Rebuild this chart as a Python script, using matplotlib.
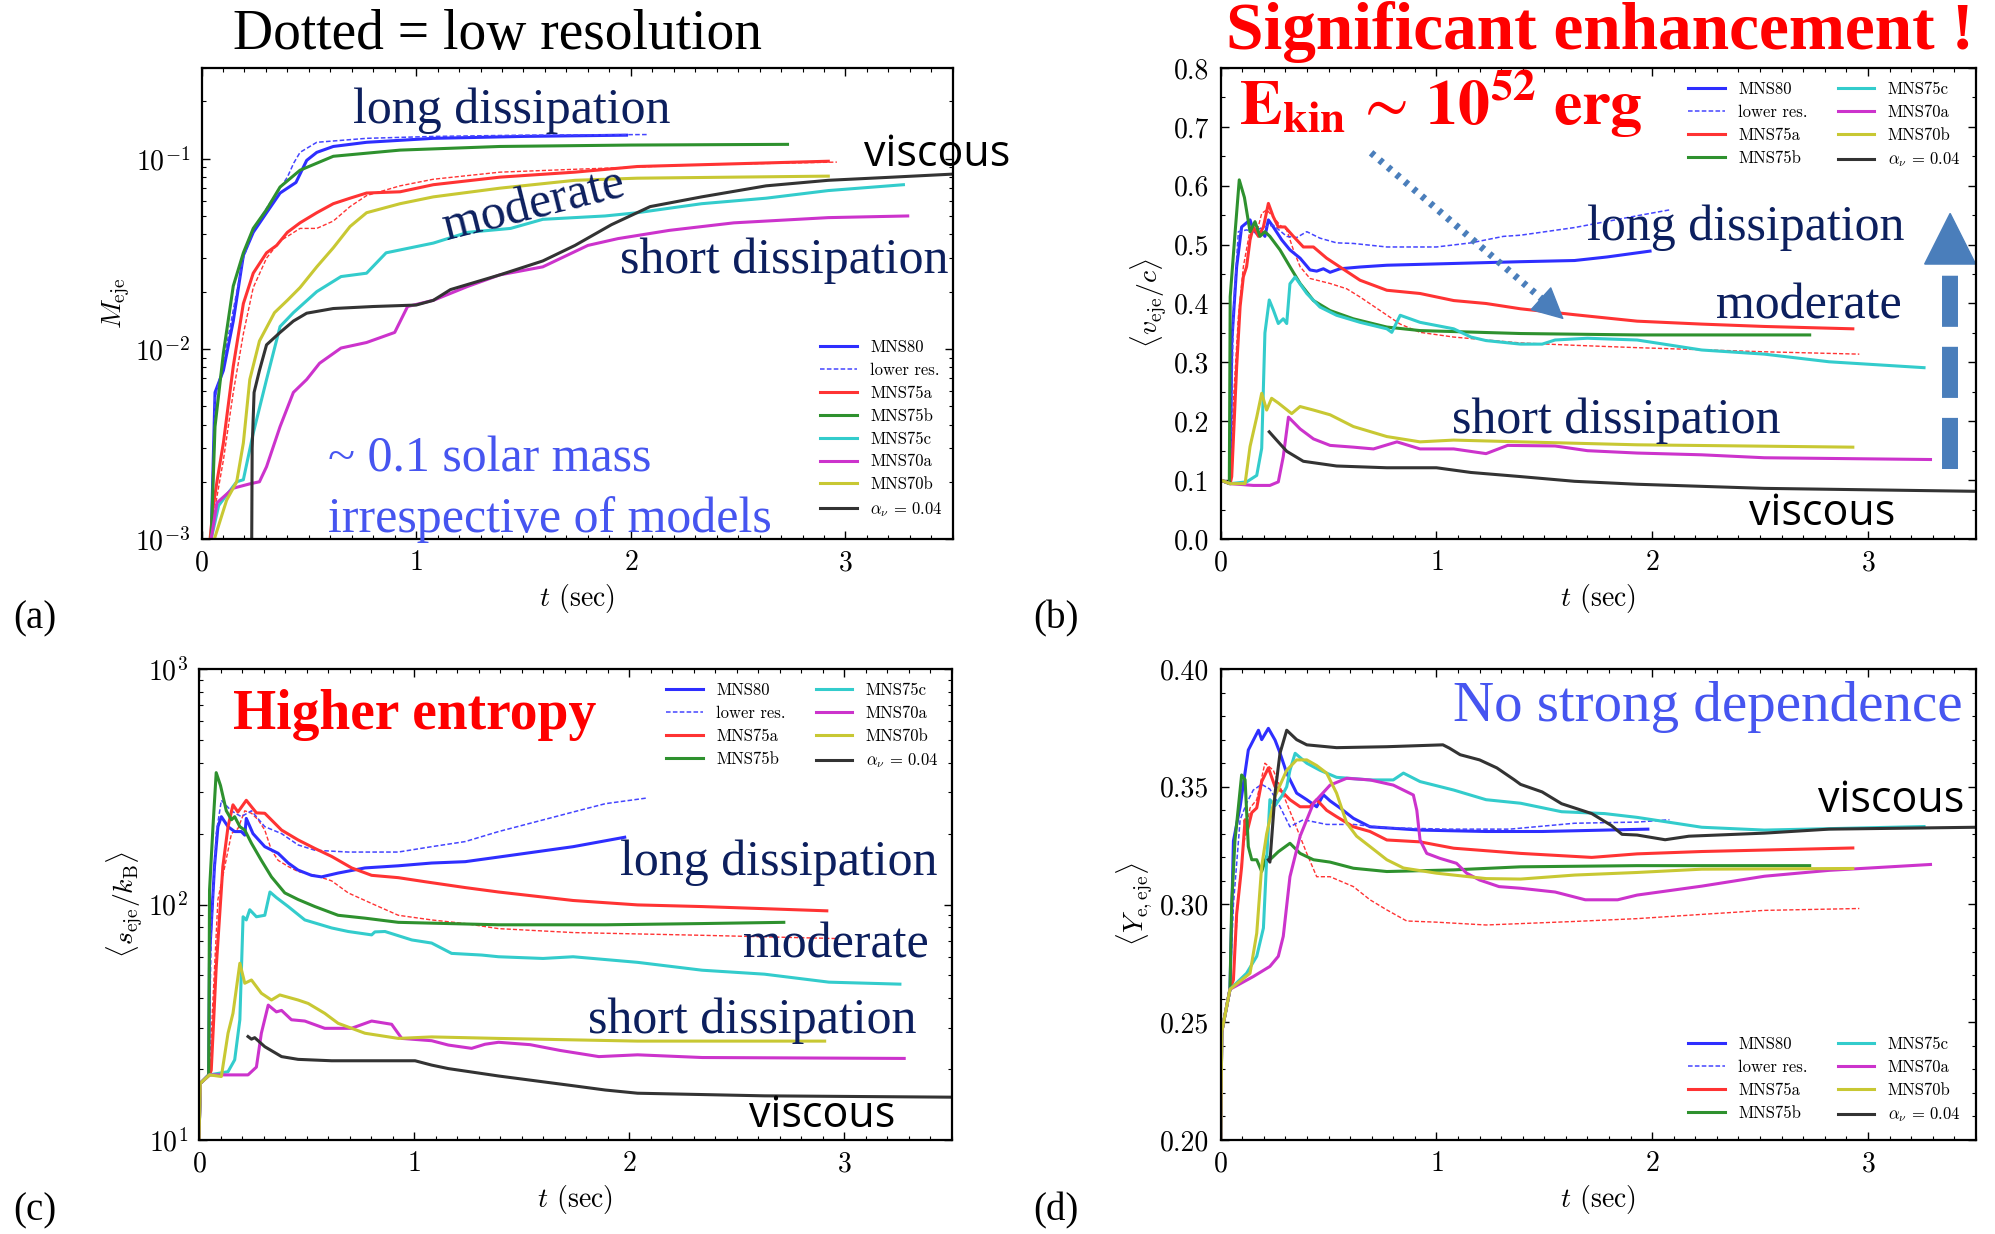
import matplotlib
matplotlib.use('Agg')
import matplotlib.pyplot as plt
from matplotlib.ticker import MultipleLocator, NullFormatter, FormatStrFormatter

plt.rcParams['font.family'] = 'cmr10'
plt.rcParams['mathtext.fontset'] = 'cm'
plt.rcParams['axes.formatter.use_mathtext'] = True

# ---------------- data ----------------
labels = ['MNS80', 'lower res.', 'MNS75a', 'MNS75b', 'MNS75c', 'MNS70a', 'MNS70b', r'$\alpha_\nu$ = 0.04']
colors = ['#2e2eff', '#4545ff', '#ff3333', '#2e912e', '#33cccc', '#cc33cc', '#c8c833', '#333333']

# (a) ejecta mass
a_t_mns80 = [0.045, 0.063, 0.102, 0.148, 0.195, 0.241, 0.303, 0.366, 0.44, 0.49, 0.537, 0.614, 0.769, 1.08, 1.5, 1.98]
a_m_mns80 = [1e-3, 5.9e-3, 7.7e-3, 0.014, 0.031, 0.041, 0.052, 0.066, 0.075, 0.098, 0.108, 0.116, 0.122, 0.128, 0.131, 0.133]
a_t_low80 = [0.045, 0.063, 0.102, 0.148, 0.195, 0.241, 0.303, 0.366, 0.4, 0.43, 0.459, 0.537, 0.769, 1.08, 1.5, 2.08]
a_m_low80 = [1e-3, 5.5e-3, 8.5e-3, 0.016, 0.03, 0.042, 0.055, 0.07, 0.08, 0.095, 0.108, 0.122, 0.128, 0.131, 0.133, 0.134]
a_t_mns75a = [0.04, 0.055, 0.075, 0.102, 0.148, 0.195, 0.241, 0.303, 0.35, 0.4, 0.459, 0.537, 0.614, 0.692, 0.769, 0.925, 1.08, 1.39, 1.74, 2.03, 2.33, 2.92]
a_m_mns75a = [1e-3, 1.5e-3, 2.1e-3, 3.2e-3, 8.1e-3, 0.0173, 0.025, 0.032, 0.035, 0.041, 0.046, 0.052, 0.058, 0.062, 0.066, 0.067, 0.073, 0.08, 0.085, 0.091, 0.093, 0.097]
a_t_low75a = [0.04, 0.06, 0.102, 0.148, 0.195, 0.241, 0.303, 0.366, 0.4, 0.459, 0.537, 0.614, 0.692, 0.769, 0.925, 1.08, 1.391, 1.74, 2.33, 2.96]
a_m_low75a = [1e-3, 1.4e-3, 2.6e-3, 5.9e-3, 0.012, 0.021, 0.03, 0.037, 0.039, 0.043, 0.043, 0.047, 0.056, 0.064, 0.072, 0.078, 0.085, 0.088, 0.093, 0.096]
a_t_mns75b = [0.045, 0.063, 0.102, 0.148, 0.195, 0.241, 0.303, 0.366, 0.459, 0.614, 0.925, 1.39, 2.0, 2.73]
a_m_mns75b = [1e-3, 3.9e-3, 9.5e-3, 0.0214, 0.032, 0.043, 0.054, 0.071, 0.087, 0.103, 0.111, 0.116, 0.118, 0.119]
a_t_mns75c = [0.045, 0.08, 0.164, 0.195, 0.241, 0.303, 0.366, 0.428, 0.537, 0.65, 0.769, 0.86, 1.08, 1.24, 1.44, 1.59, 1.88, 2.03, 2.33, 2.63, 2.92, 3.27]
a_m_mns75c = [1e-3, 1.5e-3, 2.0e-3, 2.05e-3, 3.6e-3, 6.9e-3, 0.0131, 0.0155, 0.02, 0.024, 0.025, 0.032, 0.036, 0.041, 0.043, 0.048, 0.05, 0.052, 0.058, 0.062, 0.068, 0.073]
a_t_mns70a = [0.045, 0.072, 0.148, 0.225, 0.27, 0.303, 0.366, 0.428, 0.49, 0.55, 0.65, 0.769, 0.9, 0.96, 1.08, 1.24, 1.39, 1.59, 1.8, 1.94, 2.18, 2.48, 2.92, 3.29]
a_m_mns70a = [1e-3, 1.55e-3, 1.85e-3, 1.95e-3, 2.0e-3, 2.4e-3, 3.9e-3, 5.9e-3, 6.9e-3, 8.4e-3, 0.0101, 0.0108, 0.0122, 0.0167, 0.018, 0.0213, 0.0245, 0.027, 0.035, 0.038, 0.042, 0.046, 0.049, 0.050]
a_t_mns70b = [0.06, 0.117, 0.164, 0.195, 0.225, 0.27, 0.34, 0.4, 0.459, 0.537, 0.614, 0.692, 0.769, 0.925, 1.08, 1.39, 1.74, 2.03, 2.92]
a_m_mns70b = [1e-3, 1.6e-3, 2e-3, 3.2e-3, 6.9e-3, 0.011, 0.0155, 0.018, 0.021, 0.027, 0.034, 0.044, 0.052, 0.058, 0.063, 0.070, 0.077, 0.079, 0.081]
a_t_visc = [0.234, 0.236, 0.245, 0.27, 0.303, 0.366, 0.428, 0.49, 0.614, 0.8, 1.0, 1.08, 1.16, 1.39, 1.59, 1.74, 1.91, 2.09, 2.33, 2.63, 2.92, 3.22, 3.5]
a_m_visc = [1e-3, 3e-3, 5.9e-3, 7.7e-3, 0.0105, 0.0122, 0.014, 0.0154, 0.0163, 0.0167, 0.017, 0.018, 0.0205, 0.0245, 0.029, 0.035, 0.045, 0.056, 0.063, 0.072, 0.077, 0.080, 0.083]

# (b) mean velocity
b_t_mns80 = [0, 0.044, 0.051, 0.074, 0.097, 0.136, 0.151, 0.175, 0.19, 0.205, 0.221, 0.244, 0.283, 0.321, 0.368, 0.414, 0.445, 0.476, 0.507, 0.553, 0.646, 0.77, 1.08, 1.39, 1.64, 1.79, 1.99]
b_v_mns80 = [0.1, 0.094, 0.332, 0.4625, 0.53, 0.542, 0.525, 0.516, 0.522, 0.514, 0.542, 0.53, 0.508, 0.491, 0.477, 0.457, 0.455, 0.459, 0.453, 0.459, 0.462, 0.465, 0.468, 0.471, 0.473, 0.479, 0.489]
b_t_low80 = [0, 0.044, 0.059, 0.082, 0.12, 0.151, 0.198, 0.244, 0.306, 0.352, 0.399, 0.46, 0.537, 0.615, 0.77, 1.0, 1.16, 1.31, 1.39, 1.64, 1.93, 2.08]
b_v_low80 = [0.1, 0.094, 0.39, 0.522, 0.525, 0.522, 0.53, 0.533, 0.514, 0.512, 0.522, 0.511, 0.503, 0.502, 0.496, 0.496, 0.503, 0.514, 0.516, 0.529, 0.549, 0.559]
b_t_mns75a = [0, 0.044, 0.051, 0.074, 0.09, 0.105, 0.12, 0.136, 0.151, 0.175, 0.198, 0.221, 0.244, 0.267, 0.298, 0.337, 0.383, 0.43, 0.491, 0.553, 0.646, 0.77, 0.924, 1.08, 1.23, 1.39, 1.64, 1.93, 2.23, 2.52, 2.93]
b_v_mns75a = [0.1, 0.094, 0.106, 0.293, 0.395, 0.4455, 0.4625, 0.508, 0.53, 0.514, 0.53, 0.57, 0.547, 0.53, 0.53, 0.514, 0.496, 0.496, 0.477, 0.462, 0.4395, 0.4225, 0.417, 0.405, 0.4, 0.391, 0.381, 0.37, 0.365, 0.361, 0.357]
b_t_low75a = [0, 0.044, 0.059, 0.082, 0.105, 0.136, 0.167, 0.19, 0.213, 0.244, 0.275, 0.306, 0.337, 0.368, 0.414, 0.507, 0.584, 0.646, 0.739, 0.832, 0.924, 1.08, 1.39, 1.64, 1.93, 2.52, 2.96]
b_v_low75a = [0.1, 0.094, 0.236, 0.378, 0.4625, 0.525, 0.52, 0.553, 0.559, 0.547, 0.533, 0.525, 0.491, 0.4625, 0.4425, 0.434, 0.425, 0.411, 0.388, 0.365, 0.351, 0.343, 0.333, 0.329, 0.325, 0.318, 0.314]
b_t_mns75b = [0, 0.04, 0.044, 0.067, 0.086, 0.11, 0.136, 0.159, 0.182, 0.205, 0.228, 0.275, 0.321, 0.368, 0.43, 0.507, 0.615, 0.77, 0.924, 1.39, 1.93, 2.73]
b_v_mns75b = [0.1, 0.094, 0.4115, 0.522, 0.61, 0.58, 0.522, 0.539, 0.514, 0.522, 0.514, 0.491, 0.4625, 0.434, 0.405, 0.388, 0.374, 0.36, 0.354, 0.349, 0.3466, 0.3466]
b_t_mns75c = [0, 0.044, 0.12, 0.167, 0.19, 0.205, 0.225, 0.244, 0.267, 0.29, 0.306, 0.321, 0.345, 0.399, 0.46, 0.537, 0.646, 0.77, 0.793, 0.832, 0.924, 1.08, 1.16, 1.23, 1.39, 1.49, 1.55, 1.7, 1.93, 2.23, 2.52, 2.82, 3.26]
b_v_mns75c = [0.1, 0.094, 0.097, 0.108, 0.154, 0.35, 0.406, 0.389, 0.366, 0.374, 0.366, 0.4335, 0.445, 0.417, 0.394, 0.38, 0.368, 0.357, 0.351, 0.38, 0.368, 0.357, 0.343, 0.337, 0.331, 0.331, 0.338, 0.341, 0.338, 0.321, 0.314, 0.301, 0.291]
b_t_mns70a = [0, 0.044, 0.151, 0.228, 0.267, 0.29, 0.314, 0.368, 0.43, 0.507, 0.615, 0.708, 0.817, 0.924, 1.08, 1.23, 1.33, 1.55, 1.7, 1.93, 2.23, 2.52, 3.29]
b_v_mns70a = [0.1, 0.094, 0.091, 0.091, 0.097, 0.14, 0.207, 0.187, 0.17, 0.159, 0.156, 0.153, 0.165, 0.153, 0.153, 0.145, 0.159, 0.158, 0.15, 0.146, 0.143, 0.138, 0.135]
b_t_mns70b = [0, 0.044, 0.113, 0.136, 0.167, 0.19, 0.213, 0.236, 0.267, 0.329, 0.368, 0.43, 0.507, 0.615, 0.77, 0.924, 1.08, 1.39, 1.93, 2.93]
b_v_mns70b = [0.1, 0.094, 0.094, 0.157, 0.207, 0.2475, 0.219, 0.239, 0.231, 0.213, 0.225, 0.219, 0.211, 0.191, 0.174, 0.165, 0.168, 0.165, 0.16, 0.156]
b_t_visc = [0.225, 0.259, 0.306, 0.383, 0.537, 0.77, 1.0, 1.16, 1.39, 1.64, 1.93, 2.52, 3.5]
b_v_visc = [0.182, 0.168, 0.149, 0.132, 0.124, 0.121, 0.121, 0.113, 0.106, 0.098, 0.093, 0.086, 0.081]

# (c) mean entropy
c_t_mns80 = [0, 0.006, 0.045, 0.049, 0.072, 0.088, 0.104, 0.135, 0.166, 0.197, 0.213, 0.22, 0.251, 0.306, 0.368, 0.415, 0.461, 0.523, 0.57, 0.647, 0.772, 0.927, 1.082, 1.238, 1.393, 1.74, 1.98]
c_s_mns80 = [10, 17.4, 18.9, 60, 145, 214, 236, 214, 204, 204, 197, 232, 200, 176, 165, 150, 140, 133, 131, 136, 143, 146, 150, 152, 159, 176, 193]
c_t_low80 = [0, 0.006, 0.045, 0.057, 0.08, 0.104, 0.15, 0.197, 0.244, 0.306, 0.384, 0.461, 0.539, 0.694, 0.927, 1.082, 1.238, 1.393, 1.74, 1.89, 2.08]
c_s_low80 = [10, 17.4, 18.9, 76, 200, 277, 250, 236, 250, 214, 200, 179, 170, 167, 167, 176, 185, 204, 247, 268, 283]
c_t_mns75a = [0, 0.006, 0.049, 0.057, 0.08, 0.111, 0.135, 0.158, 0.181, 0.22, 0.267, 0.306, 0.384, 0.461, 0.539, 0.617, 0.71, 0.803, 0.927, 1.05, 1.238, 1.393, 1.74, 2.04, 2.34, 2.63, 2.92]
c_s_mns75a = [10, 17.4, 18.9, 19.8, 54, 145, 214, 265, 247, 277, 245, 244, 207, 188, 173, 160, 143, 133, 130, 125, 118, 113, 104, 99.6, 98, 96, 94]
c_t_low75a = [0, 0.006, 0.049, 0.057, 0.088, 0.12, 0.151, 0.181, 0.213, 0.244, 0.275, 0.306, 0.337, 0.368, 0.415, 0.461, 0.539, 0.617, 0.694, 0.803, 0.927, 1.082, 1.238, 1.393, 1.74, 2.34, 2.96]
c_s_low75a = [10, 17.4, 18.9, 28, 105, 145, 200, 210, 250, 244, 229, 207, 170, 154, 145, 138, 133, 126, 112, 101, 90, 86, 83, 79, 76, 74, 71.7]
c_t_mns75b = [0, 0.006, 0.045, 0.049, 0.065, 0.08, 0.1, 0.127, 0.151, 0.166, 0.19, 0.213, 0.244, 0.29, 0.337, 0.399, 0.461, 0.539, 0.647, 0.772, 0.927, 1.393, 1.89, 2.34, 2.72]
c_s_mns75b = [10, 17.4, 18.9, 115, 214, 363, 320, 250, 229, 236, 214, 207, 182, 154, 131, 112, 105, 98, 90, 87.5, 84, 82, 82, 83, 84]
c_t_mns75c = [0, 0.006, 0.049, 0.135, 0.166, 0.19, 0.205, 0.22, 0.236, 0.267, 0.306, 0.33, 0.36, 0.415, 0.492, 0.617, 0.694, 0.803, 0.818, 0.865, 0.99, 1.082, 1.175, 1.315, 1.393, 1.6, 1.74, 2.04, 2.34, 2.63, 2.93, 3.26]
c_s_mns75c = [10, 17.4, 18.9, 19.5, 21.9, 32.4, 88.7, 86, 95, 88.7, 90, 113, 107, 98, 86, 79.5, 76.8, 74.3, 76.5, 76.8, 70.7, 68.6, 62, 61, 60, 59, 60, 56.8, 52.6, 50.6, 46.8, 45.9]
c_t_mns70a = [0, 0.006, 0.049, 0.228, 0.267, 0.29, 0.322, 0.36, 0.384, 0.43, 0.492, 0.585, 0.709, 0.803, 0.896, 0.943, 1.082, 1.16, 1.268, 1.33, 1.393, 1.54, 1.68, 1.86, 2.04, 2.34, 3.28]
c_s_mns70a = [10, 17.4, 18.9, 18.9, 20.4, 28.4, 37.4, 35, 35.5, 32.4, 32, 29.8, 29.8, 32, 31, 27, 26.4, 25.3, 24.5, 25.5, 26, 25.4, 24, 22.6, 23, 22.4, 22.2]
c_t_mns70b = [0, 0.006, 0.049, 0.104, 0.135, 0.158, 0.19, 0.213, 0.244, 0.29, 0.337, 0.376, 0.461, 0.508, 0.585, 0.647, 0.772, 0.927, 1.082, 1.393, 2.04, 2.91]
c_s_mns70b = [10, 17.4, 18.9, 18.6, 28.4, 34.5, 56.3, 46.3, 47.8, 42, 39.3, 41.3, 39.3, 38, 34.5, 31.3, 28.4, 27, 27.4, 27, 26.3, 26.3]
c_t_visc = [0.228, 0.244, 0.259, 0.306, 0.384, 0.461, 0.617, 1.005, 1.082, 1.16, 1.393, 1.74, 1.89, 2.04, 2.63, 3.5]
c_s_visc = [27.5, 26.8, 27.2, 24.9, 22.6, 22, 21.7, 21.7, 20.8, 20.1, 18.7, 17, 16.3, 15.8, 15.4, 15.2]

# (d) mean electron fraction
d_t_mns80 = [0, 0.005, 0.043, 0.059, 0.09, 0.128, 0.175, 0.19, 0.221, 0.252, 0.275, 0.306, 0.352, 0.399, 0.445, 0.476, 0.507, 0.553, 0.615, 0.692, 0.924, 1.23, 1.49, 1.98]
d_y_mns80 = [0.2, 0.246, 0.264, 0.327, 0.3415, 0.3656, 0.374, 0.37, 0.3748, 0.3698, 0.3643, 0.3558, 0.3473, 0.3445, 0.3415, 0.3466, 0.344, 0.341, 0.3366, 0.333, 0.3316, 0.331, 0.331, 0.332]
d_t_low80 = [0, 0.005, 0.043, 0.059, 0.09, 0.12, 0.151, 0.19, 0.228, 0.267, 0.321, 0.383, 0.491, 0.615, 0.77, 1.05, 1.34, 1.64, 1.93, 2.08]
d_y_low80 = [0.2, 0.246, 0.264, 0.3, 0.336, 0.343, 0.3486, 0.351, 0.349, 0.343, 0.333, 0.336, 0.334, 0.334, 0.3326, 0.332, 0.332, 0.3345, 0.335, 0.336]
d_t_mns75a = [0, 0.005, 0.043, 0.059, 0.074, 0.097, 0.113, 0.12, 0.144, 0.167, 0.19, 0.221, 0.252, 0.283, 0.321, 0.368, 0.414, 0.445, 0.491, 0.537, 0.615, 0.692, 0.77, 0.924, 1.08, 1.39, 1.72, 1.93, 2.23, 2.93]
d_y_mns75a = [0.2, 0.246, 0.264, 0.268, 0.296, 0.316, 0.336, 0.33, 0.339, 0.341, 0.3522, 0.358, 0.35, 0.348, 0.3445, 0.3415, 0.3415, 0.3445, 0.34, 0.3373, 0.333, 0.331, 0.3274, 0.3266, 0.3239, 0.3217, 0.320, 0.3215, 0.3225, 0.324]
d_t_low75a = [0, 0.005, 0.043, 0.059, 0.082, 0.105, 0.136, 0.167, 0.205, 0.244, 0.275, 0.337, 0.399, 0.445, 0.507, 0.615, 0.692, 0.77, 0.862, 1.0, 1.23, 1.64, 1.93, 2.23, 2.52, 2.96]
d_y_low75a = [0.2, 0.246, 0.264, 0.268, 0.3048, 0.3246, 0.341, 0.3445, 0.36, 0.357, 0.35, 0.336, 0.3217, 0.3118, 0.3118, 0.3076, 0.302, 0.2977, 0.293, 0.2925, 0.2913, 0.2928, 0.294, 0.2958, 0.2975, 0.2983]
d_t_mns75b = [0, 0.005, 0.043, 0.051, 0.066, 0.097, 0.113, 0.128, 0.144, 0.167, 0.19, 0.213, 0.228, 0.267, 0.321, 0.368, 0.43, 0.507, 0.615, 0.77, 1.08, 1.39, 1.93, 2.73]
d_y_mns75b = [0.2, 0.246, 0.264, 0.3005, 0.327, 0.355, 0.353, 0.3246, 0.319, 0.319, 0.314, 0.3205, 0.319, 0.3224, 0.326, 0.3217, 0.319, 0.318, 0.3154, 0.314, 0.3147, 0.316, 0.3165, 0.3165]
d_t_mns75c = [0, 0.005, 0.043, 0.12, 0.167, 0.198, 0.213, 0.228, 0.252, 0.283, 0.306, 0.321, 0.345, 0.399, 0.46, 0.537, 0.692, 0.8, 0.847, 0.924, 1.08, 1.23, 1.39, 1.58, 1.78, 1.93, 2.23, 2.52, 3.26]
d_y_mns75c = [0.2, 0.246, 0.264, 0.2708, 0.278, 0.29, 0.319, 0.3445, 0.342, 0.346, 0.35, 0.357, 0.3642, 0.36, 0.357, 0.354, 0.3529, 0.3529, 0.3558, 0.3522, 0.3486, 0.3445, 0.343, 0.3394, 0.3386, 0.337, 0.3328, 0.3316, 0.3331]
d_t_mns70a = [0, 0.005, 0.043, 0.151, 0.228, 0.267, 0.29, 0.321, 0.368, 0.43, 0.507, 0.584, 0.692, 0.8, 0.893, 0.909, 0.924, 0.955, 1.016, 1.093, 1.14, 1.2, 1.29, 1.39, 1.55, 1.69, 1.84, 1.93, 2.23, 2.52, 2.82, 3.29]
d_y_mns70a = [0.2, 0.246, 0.264, 0.2694, 0.2737, 0.278, 0.2865, 0.3118, 0.329, 0.343, 0.3507, 0.3536, 0.3529, 0.3507, 0.3465, 0.34, 0.3274, 0.3217, 0.3196, 0.3175, 0.3133, 0.3104, 0.3076, 0.3069, 0.3053, 0.302, 0.302, 0.304, 0.3078, 0.312, 0.3145, 0.317]
d_t_mns70b = [0, 0.005, 0.043, 0.136, 0.167, 0.19, 0.213, 0.252, 0.306, 0.352, 0.399, 0.445, 0.491, 0.537, 0.584, 0.63, 0.692, 0.77, 0.847, 1.0, 1.23, 1.39, 1.64, 1.93, 2.23, 2.93]
d_y_mns70b = [0.2, 0.246, 0.264, 0.2708, 0.2878, 0.3162, 0.33, 0.346, 0.357, 0.3614, 0.3614, 0.359, 0.3558, 0.3473, 0.3346, 0.329, 0.3246, 0.319, 0.3155, 0.3133, 0.311, 0.3108, 0.3125, 0.3136, 0.315, 0.3153]
d_t_visc = [0.221, 0.228, 0.252, 0.275, 0.306, 0.352, 0.399, 0.537, 0.77, 1.03, 1.06, 1.11, 1.2, 1.28, 1.36, 1.39, 1.49, 1.58, 1.72, 1.81, 1.86, 1.93, 2.06, 2.17, 2.52, 2.82, 3.5]
d_y_visc = [0.319, 0.318, 0.3473, 0.3643, 0.374, 0.37, 0.3678, 0.3666, 0.367, 0.3678, 0.3664, 0.3636, 0.3614, 0.358, 0.353, 0.351, 0.3478, 0.3428, 0.3386, 0.3336, 0.3298, 0.3295, 0.3275, 0.329, 0.3303, 0.332, 0.3328]

# ---------------- layout ----------------
W, H = 1995, 1234
NAVY = '#0c1f5e'
LBLUE = '#4655f0'
SERIF = 'Liberation Serif'
SANS = 'Open Sans'


def fx(x):
    return x / W


def fy(y):
    return 1 - y / H


fig = plt.figure(figsize=(W / 100, H / 100), dpi=100)


def make_axes(left, top, right, bottom):
    ax = fig.add_axes([fx(left), fy(bottom), fx(right - left), (bottom - top) / H])
    ax.set_xlim(0, 3.5)
    ax.set_xticks([0, 1, 2, 3])
    ax.xaxis.set_minor_locator(MultipleLocator(0.1))
    ax.tick_params(which='both', direction='in', top=True, right=True, labelsize=20)
    ax.tick_params(which='major', length=6, width=1.0, pad=8)
    ax.tick_params(which='minor', length=3, width=0.8)
    for sp in ax.spines.values():
        sp.set_linewidth(1.6)
    ax.set_xlabel(r'$t$ (sec)', fontsize=20, labelpad=4)
    return ax


def draw(ax, curves, legend_xy, ncol):
    handles = []
    for i, (t, v) in enumerate(curves):
        if i == 1:
            h, = ax.plot(t, v, color=colors[1], lw=1.1, ls=(0, (3, 1.5)), label=labels[1])
        else:
            h, = ax.plot(t, v, color=colors[i], lw=2.2, label=labels[i])
        handles.append(h)
    ax.legend(handles=handles, loc='upper left', bbox_to_anchor=(fx(legend_xy[0]), fy(legend_xy[1])),
              bbox_transform=fig.transFigure, ncol=ncol, frameon=False, fontsize=12,
              borderpad=0, borderaxespad=0, handlelength=2.2, handletextpad=0.8,
              labelspacing=0.45, columnspacing=1.8)


def low75a(ax, t, v):
    ax.plot(t, v, color=colors[2], lw=1.0, ls=(0, (3, 1.5)))


# (a)
ax_a = make_axes(201.5, 68, 952.8, 539)
ax_a.set_yscale('log')
ax_a.set_ylim(1e-3, 0.3)
ax_a.yaxis.set_minor_formatter(NullFormatter())
low75a(ax_a, a_t_low75a, a_m_low75a)
draw(ax_a, [(a_t_mns80, a_m_mns80), (a_t_low80, a_m_low80), (a_t_mns75a, a_m_mns75a),
            (a_t_mns75b, a_m_mns75b), (a_t_mns75c, a_m_mns75c), (a_t_mns70a, a_m_mns70a),
            (a_t_mns70b, a_m_mns70b), (a_t_visc, a_m_visc)], (820, 340), 1)
ax_a.set_ylabel(r'$M_{\rm eje}$', fontsize=20, labelpad=2)

# (b)
ax_b = make_axes(1220.7, 68, 1975.8, 539)
ax_b.set_ylim(0, 0.8)
ax_b.yaxis.set_major_locator(MultipleLocator(0.1))
ax_b.yaxis.set_minor_locator(MultipleLocator(0.05))
ax_b.yaxis.set_major_formatter(FormatStrFormatter('%.1f'))
low75a(ax_b, b_t_low75a, b_v_low75a)
draw(ax_b, [(b_t_mns80, b_v_mns80), (b_t_low80, b_v_low80), (b_t_mns75a, b_v_mns75a),
            (b_t_mns75b, b_v_mns75b), (b_t_mns75c, b_v_mns75c), (b_t_mns70a, b_v_mns70a),
            (b_t_mns70b, b_v_mns70b), (b_t_visc, b_v_visc)], (1688, 82), 2)
ax_b.set_ylabel(r'$\langle v_{\rm eje}/c\rangle$', fontsize=20, labelpad=4)

# (c)
ax_c = make_axes(199, 669, 951.5, 1140)
ax_c.set_yscale('log')
ax_c.set_ylim(10, 1000)
ax_c.yaxis.set_minor_formatter(NullFormatter())
low75a(ax_c, c_t_low75a, c_s_low75a)
draw(ax_c, [(c_t_mns80, c_s_mns80), (c_t_low80, c_s_low80), (c_t_mns75a, c_s_mns75a),
            (c_t_mns75b, c_s_mns75b), (c_t_mns75c, c_s_mns75c), (c_t_mns70a, c_s_mns70a),
            (c_t_mns70b, c_s_mns70b), (c_t_visc, c_s_visc)], (666, 683), 2)
ax_c.set_ylabel(r'$\langle s_{\rm eje}/k_{\rm B}\rangle$', fontsize=20, labelpad=2)

# (d)
ax_d = make_axes(1220.7, 669, 1975.8, 1140)
ax_d.set_ylim(0.2, 0.4)
ax_d.yaxis.set_major_locator(MultipleLocator(0.05))
ax_d.yaxis.set_minor_locator(MultipleLocator(0.01))
ax_d.yaxis.set_major_formatter(FormatStrFormatter('%.2f'))
low75a(ax_d, d_t_low75a, d_y_low75a)
draw(ax_d, [(d_t_mns80, d_y_mns80), (d_t_low80, d_y_low80), (d_t_mns75a, d_y_mns75a),
            (d_t_mns75b, d_y_mns75b), (d_t_mns75c, d_y_mns75c), (d_t_mns70a, d_y_mns70a),
            (d_t_mns70b, d_y_mns70b), (d_t_visc, d_y_visc)], (1688, 1037), 2)
ax_d.set_ylabel(r'$\langle Y_{\rm e,eje}\rangle$', fontsize=20, labelpad=4)


# ---------------- annotations ----------------
def note(x, y, s, size, color, family=SERIF, weight='normal', **kw):
    fig.text(fx(x), fy(y), s, fontsize=size, color=color, family=family,
             weight=weight, ha='left', va='baseline', **kw)


note(233, 49, 'Dotted = low resolution', 40, 'black')
note(353, 123, 'long dissipation', 36, NAVY)
note(864, 166, 'viscous', 31, 'black', family=SANS)
fig.text(fx(534), fy(206), 'moderate', fontsize=36, color=NAVY, family=SERIF,
         rotation=14, ha='center', va='center', rotation_mode='anchor')
note(620, 273, 'short dissipation', 36, NAVY)
note(328, 471, '~ 0.1 solar mass', 36, LBLUE)
note(328, 532, 'irrespective of models', 36, LBLUE)

note(1226, 49, 'Significant enhancement !', 48.5, 'red', weight='bold')
fig.text(fx(1239), fy(124), r'$\mathbf{E_{kin}}\,\sim\,\mathbf{10^{52}\ erg}$', fontsize=46,
         color='red', math_fontfamily='stix', ha='left', va='baseline')
note(1587, 240, 'long dissipation', 36, NAVY)
note(1716, 319, 'moderate', 36, NAVY)
note(1452, 433, 'short dissipation', 36, NAVY)
note(1749, 525, 'viscous', 31, 'black', family=SANS)

note(233, 729, 'Higher entropy', 40, 'red', weight='bold')
note(620, 875, 'long dissipation', 36, NAVY)
note(743, 957, 'moderate', 36, NAVY)
note(588, 1033, 'short dissipation', 36, NAVY)
note(749, 1127, 'viscous', 31, 'black', family=SANS)

note(1453, 721, 'No strong dependence', 41, LBLUE)
note(1818, 812, 'viscous', 31, 'black', family=SANS)

note(13, 628, '(a)', 28, 'black')
note(1033, 628, '(b)', 28, 'black')
note(13, 1220, '(c)', 28, 'black')
note(1033, 1220, '(d)', 28, 'black')

# arrows in (b)
ARROW = '#4a7ebb'
ax_b.plot([0.697, 1.52], [0.656, 0.398], color=ARROW, lw=5, ls=(0, (0.6, 1.0)), solid_capstyle='butt')
ax_b.annotate('', xy=(1.6, 0.37), xytext=(1.5, 0.403),
              arrowprops=dict(arrowstyle='-|>,head_length=0.7,head_width=0.35', color=ARROW,
                              lw=1, mutation_scale=30))
ax_b.plot([3.381, 3.381], [0.119, 0.467], color=ARROW, lw=11.5, ls=(0, (3.2, 1.25)),
          solid_capstyle='butt', dash_capstyle='butt')
ax_b.arrow(3.381, 0.467, 0, 0.086, width=0.001, head_width=0.236, head_length=0.086,
           length_includes_head=True, color=ARROW, clip_on=False)

fig.savefig('out.png', dpi=100)
